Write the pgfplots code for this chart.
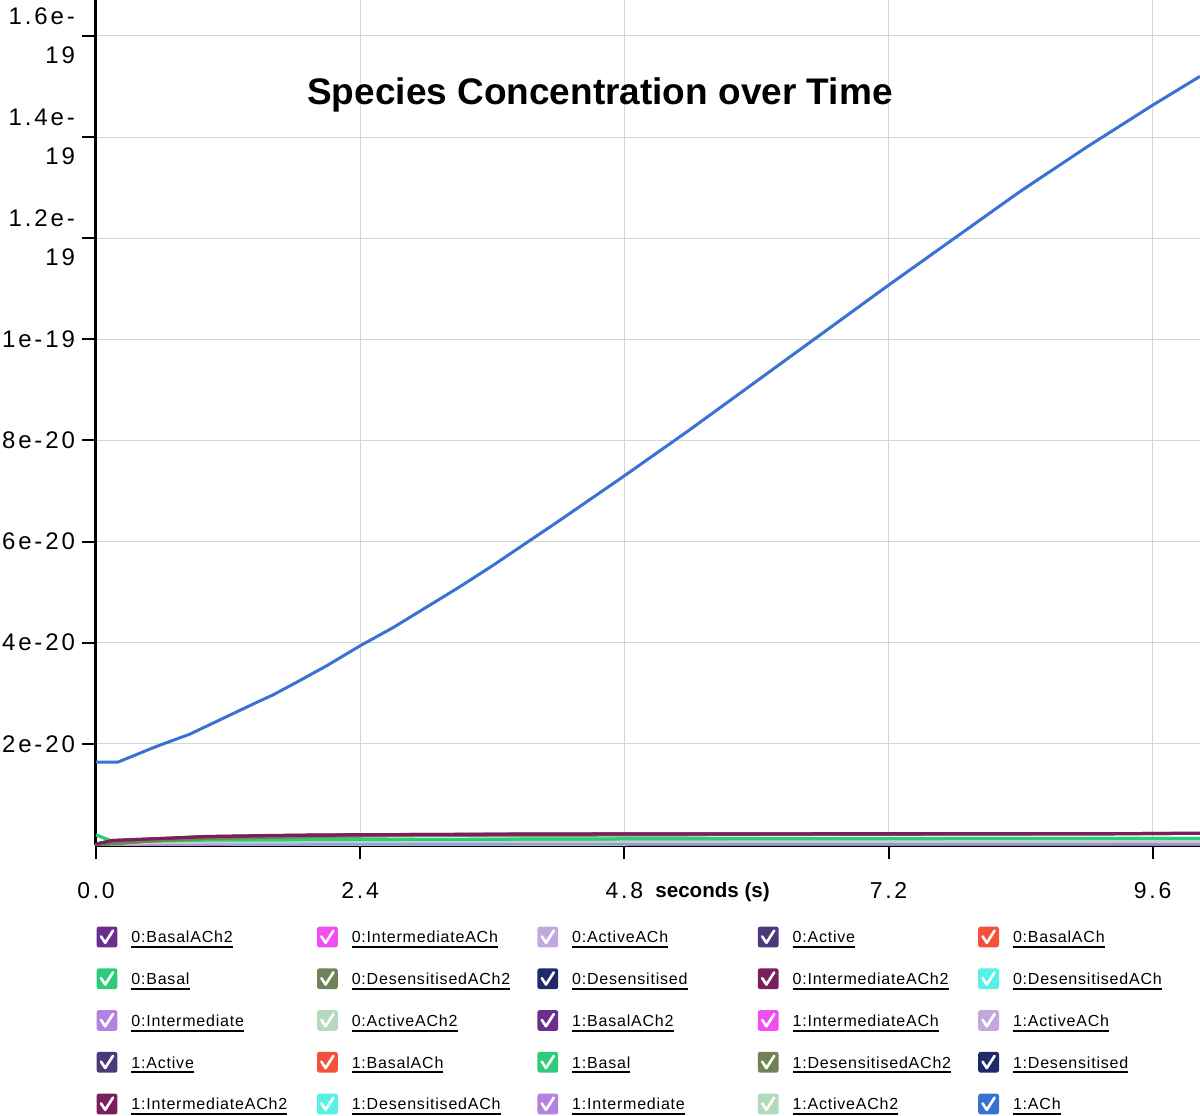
\documentclass[border=0pt]{standalone}
\usepackage{fontspec}
\setmainfont{Liberation Sans}
\newfontfamily\tickfont[LetterSpace=12]{Liberation Sans}
\newfontfamily\legfont[LetterSpace=5]{Liberation Sans}
\usepackage{pgfplots}
\pgfplotsset{compat=1.18}

\definecolor{cBasalACh2}{HTML}{6B2D8E}
\definecolor{cIntermediateACh}{HTML}{F04EF0}
\definecolor{cActiveACh}{HTML}{C3A8E0}
\definecolor{cActive}{HTML}{4B3A78}
\definecolor{cBasalACh}{HTML}{F5503C}
\definecolor{cBasal}{HTML}{2ECC7A}
\definecolor{cDesensitisedACh2}{HTML}{6E8458}
\definecolor{cDesensitised}{HTML}{1F2A6B}
\definecolor{cIntermediateACh2}{HTML}{7B1F5C}
\definecolor{cDesensitisedACh}{HTML}{55F0E6}
\definecolor{cIntermediate}{HTML}{B483E0}
\definecolor{cActiveACh2}{HTML}{B3DABA}
\definecolor{cACh}{HTML}{3A72D2}

\newcommand{\ul}[1]{\setbox0\hbox{#1}\rlap{\rule[-2.6pt]{\wd0}{0.9pt}}\box0}

\newcommand{\legitem}[4]{%
  \pgfmathsetmacro{\lx}{53.5+110.2*#1}%
  \pgfmathsetmacro{\ly}{89-20.875*#2}%
  \fill[#3, rounded corners=1.2pt] (\lx-5.2,\ly-5.2) rectangle (\lx+5.2,\ly+5.2);
  \draw[white, line width=1.3pt, line cap=round, line join=round] (\lx-3,\ly+0.3) -- (\lx-0.9,\ly-2.9) -- (\lx+3,\ly+3.2);
  \node[anchor=base west, inner sep=0pt, font=\legfont\fontsize{8}{9}\selectfont] at (\lx+12,\ly-2.9) {\ul{#4}};
}

\begin{document}
\begin{tikzpicture}[x=1pt,y=1pt]
\useasboundingbox (0,0) rectangle (600,557.5);
\begin{axis}[
  at={(48pt,135pt)}, anchor=south west,
  scale only axis, width=552pt, height=422.5pt,
  xmin=0, xmax=10.03, ymin=0, ymax=1.671e-19,
  axis x line*=bottom, axis y line*=left,
  axis line style={line width=1.5pt, black},
  xtick={0,2.4,4.8,7.2,9.6}, xticklabels={0.0,2.4,4.8,7.2,9.6},
  ytick={2e-20,4e-20,6e-20,8e-20,1e-19,1.2e-19,1.4e-19,1.6e-19},
  yticklabels={2e-20,4e-20,6e-20,8e-20,1e-19,{1.2e-\\19},{1.4e-\\19},{1.6e-\\19}},
  scaled y ticks=false, scaled x ticks=false,
  tick align=outside, major tick length=7pt,
  tick style={black, line width=1pt},
  grid=major, grid style={line width=0.5pt, color=black!17},
  xticklabel style={font=\tickfont\fontsize{11.5}{13}\selectfont, yshift=-8pt},
  yticklabel style={font=\tickfont\fontsize{12}{19.5}\selectfont, align=right},
  xlabel={seconds (s)},
  xlabel style={at={(rel axis cs:0.5585,0)}, anchor=base, yshift=-26pt, font=\bfseries\fontsize{10.3}{12}\selectfont},
  title={Species Concentration over Time},
  title style={at={(rel axis cs:0.4565,0.873)}, anchor=center, font=\bfseries\fontsize{18.5}{22}\selectfont},
  every axis plot/.append style={line width=1.5pt, no markers},
]
% near-zero species
\addplot[cDesensitised] coordinates {(0,0.1e-21)(2,0.15e-21)(5,0.2e-21)(10.03,0.2e-21)};
\addplot[cDesensitised] coordinates {(0,0.1e-21)(2,0.12e-21)(5,0.18e-21)(10.03,0.2e-21)};
\addplot[cActive] coordinates {(0,0.05e-21)(2,0.1e-21)(6,0.15e-21)(10.03,0.15e-21)};
\addplot[cActive] coordinates {(0,0.05e-21)(2,0.1e-21)(6,0.12e-21)(10.03,0.15e-21)};
\addplot[cBasalACh] coordinates {(0,0.0)(1,0.1e-21)(5,0.12e-21)(10.03,0.12e-21)};
\addplot[cBasalACh] coordinates {(0,0.0)(1,0.1e-21)(5,0.1e-21)(10.03,0.12e-21)};
\addplot[cBasalACh2] coordinates {(0,0.0)(1,0.08e-21)(5,0.1e-21)(10.03,0.1e-21)};
\addplot[cBasalACh2] coordinates {(0,0.0)(1,0.08e-21)(5,0.1e-21)(10.03,0.1e-21)};
\addplot[cDesensitisedACh] coordinates {(0,0.0)(1,0.15e-21)(5,0.2e-21)(10.03,0.2e-21)};
\addplot[cDesensitisedACh] coordinates {(0,0.0)(1,0.15e-21)(5,0.2e-21)(10.03,0.22e-21)};
\addplot[cIntermediateACh] coordinates {(0,0.0)(0.5,0.2e-21)(2,0.3e-21)(5,0.35e-21)(10.03,0.35e-21)};
\addplot[cIntermediateACh] coordinates {(0,0.0)(0.5,0.2e-21)(2,0.3e-21)(5,0.3e-21)(10.03,0.35e-21)};
\addplot[cActiveACh] coordinates {(0,0.0)(0.5,0.25e-21)(2,0.4e-21)(5,0.45e-21)(10.03,0.45e-21)};
\addplot[cActiveACh] coordinates {(0,0.0)(0.5,0.25e-21)(2,0.4e-21)(5,0.42e-21)(10.03,0.45e-21)};
\addplot[cIntermediate] coordinates {(0,0.0)(0.3,0.3e-21)(1,0.45e-21)(3,0.5e-21)(6,0.55e-21)(10.03,0.55e-21)};
\addplot[cIntermediate] coordinates {(0,0.0)(0.3,0.3e-21)(1,0.45e-21)(3,0.5e-21)(6,0.5e-21)(10.03,0.55e-21)};
\addplot[cActiveACh2] coordinates {(0,0.0)(0.3,0.4e-21)(1,0.6e-21)(3,0.7e-21)(6,0.75e-21)(10.03,0.75e-21)};
\addplot[cActiveACh2] coordinates {(0,0.0)(0.3,0.4e-21)(1,0.6e-21)(3,0.7e-21)(6,0.72e-21)(10.03,0.75e-21)};
% green basal
\addplot[cBasal] coordinates {(0,2.0e-21)(0.15,0.7e-21)(0.5,0.8e-21)(1,1.0e-21)(2,1.1e-21)(3,1.1e-21)(4,1.2e-21)(5,1.25e-21)(6,1.25e-21)(7,1.3e-21)(8,1.3e-21)(9,1.3e-21)(10.03,1.3e-21)};
\addplot[cBasal] coordinates {(0,2.0e-21)(0.15,0.7e-21)(0.5,0.8e-21)(1,1.0e-21)(2,1.05e-21)(3,1.1e-21)(4,1.15e-21)(5,1.2e-21)(6,1.25e-21)(7,1.25e-21)(8,1.3e-21)(9,1.3e-21)(10.03,1.3e-21)};
% desensitised ACh2 (olive)
\addplot[cDesensitisedACh2] coordinates {(0,0.0)(0.5,0.8e-21)(1,1.3e-21)(2,1.7e-21)(3,1.9e-21)(5,2.0e-21)(7,2.1e-21)(9,2.2e-21)(10.03,2.3e-21)};
\addplot[cDesensitisedACh2] coordinates {(0,0.0)(0.5,0.8e-21)(1,1.3e-21)(2,1.7e-21)(3,1.9e-21)(5,2.0e-21)(7,2.15e-21)(9,2.25e-21)(10.03,2.3e-21)};
% maroon intermediate ACh2
\addplot[cIntermediateACh2] coordinates {(0,0.2e-21)(0.15,0.9e-21)(0.6,1.3e-21)(1.0,1.7e-21)(1.6,1.9e-21)(2.0,2.0e-21)(3,2.1e-21)(4,2.2e-21)(5,2.2e-21)(6,2.2e-21)(7,2.2e-21)(8,2.25e-21)(9,2.2e-21)(10.03,2.3e-21)};
\addplot[cIntermediateACh2] coordinates {(0,0.2e-21)(0.15,0.9e-21)(0.6,1.3e-21)(1.0,1.65e-21)(1.6,1.85e-21)(2.0,1.95e-21)(3,2.1e-21)(4,2.15e-21)(5,2.2e-21)(6,2.2e-21)(7,2.25e-21)(8,2.2e-21)(9,2.25e-21)(10.03,2.3e-21)};
% 1:ACh
\addplot[cACh] coordinates {(0,1.64e-20)(0.2,1.64e-20)(0.55,1.95e-20)(0.85,2.19e-20)(1.15,2.5e-20)(1.46,2.82e-20)(1.61,2.97e-20)(1.85,3.25e-20)(2.1,3.55e-20)(2.4,3.94e-20)(2.7,4.3e-20)(3.0,4.7e-20)(3.3,5.1e-20)(3.6,5.52e-20)(4.2,6.4e-20)(4.8,7.3e-20)(5.4,8.22e-20)(6.0,9.17e-20)(6.6,10.12e-20)(7.2,11.07e-20)(7.8,12.0e-20)(8.4,12.93e-20)(9.0,13.8e-20)(9.6,14.63e-20)(10.03,15.2e-20)};
\end{axis}
\legitem{0}{0}{cBasalACh2}{0:BasalACh2}
\legitem{1}{0}{cIntermediateACh}{0:IntermediateACh}
\legitem{2}{0}{cActiveACh}{0:ActiveACh}
\legitem{3}{0}{cActive}{0:Active}
\legitem{4}{0}{cBasalACh}{0:BasalACh}
\legitem{0}{1}{cBasal}{0:Basal}
\legitem{1}{1}{cDesensitisedACh2}{0:DesensitisedACh2}
\legitem{2}{1}{cDesensitised}{0:Desensitised}
\legitem{3}{1}{cIntermediateACh2}{0:IntermediateACh2}
\legitem{4}{1}{cDesensitisedACh}{0:DesensitisedACh}
\legitem{0}{2}{cIntermediate}{0:Intermediate}
\legitem{1}{2}{cActiveACh2}{0:ActiveACh2}
\legitem{2}{2}{cBasalACh2}{1:BasalACh2}
\legitem{3}{2}{cIntermediateACh}{1:IntermediateACh}
\legitem{4}{2}{cActiveACh}{1:ActiveACh}
\legitem{0}{3}{cActive}{1:Active}
\legitem{1}{3}{cBasalACh}{1:BasalACh}
\legitem{2}{3}{cBasal}{1:Basal}
\legitem{3}{3}{cDesensitisedACh2}{1:DesensitisedACh2}
\legitem{4}{3}{cDesensitised}{1:Desensitised}
\legitem{0}{4}{cIntermediateACh2}{1:IntermediateACh2}
\legitem{1}{4}{cDesensitisedACh}{1:DesensitisedACh}
\legitem{2}{4}{cIntermediate}{1:Intermediate}
\legitem{3}{4}{cActiveACh2}{1:ActiveACh2}
\legitem{4}{4}{cACh}{1:ACh}
\end{tikzpicture}
\end{document}
